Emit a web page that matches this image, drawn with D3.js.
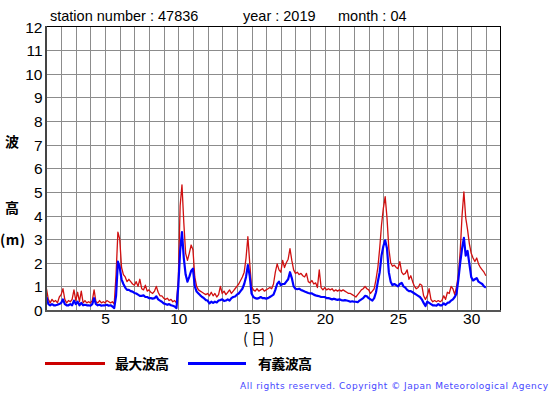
<!DOCTYPE html>
<html><head><meta charset="utf-8">
<script src="https://cdn.jsdelivr.net/npm/d3@7"></script>
<style>body{margin:0;background:#fff;overflow:hidden}</style>
</head><body><svg id="c" width="555" height="395"></svg>
<script>
// ---- data (3-hourly readings, April 2019, station 47836) ----
const titleStation = "station number : 47836";
const titleYear = "year : 2019";
const titleMonth = "month : 04";
const yTickValues = [0,1,2,3,4,5,6,7,8,9,10,11,12];
const xTickLabels = [5,10,15,20,25,30];
const seriesNames = ["最大波高", "有義波高"];
const samplesPerDay = 8;
const maxWave = [
 0.9,0.45,0.3,0.45,0.35,0.4,0.3,0.55,
 0.65,0.9,0.45,0.3,0.4,0.35,0.45,0.85,
 0.4,0.75,0.35,0.8,0.3,0.4,0.3,0.35,
 0.3,0.4,0.85,0.35,0.3,0.4,0.3,0.35,
 0.3,0.4,0.35,0.3,0.35,0.25,1.5,3.3,
 3.0,1.8,1.5,1.4,1.2,1.3,1.2,1.1,
 1.05,1.2,1.0,1.3,0.9,0.85,1.05,0.8,
 0.85,0.75,0.7,0.8,1.0,0.75,0.6,0.6,
 0.5,0.45,0.5,0.4,0.45,0.35,0.4,0.3,
 1.3,4.4,5.3,3.7,2.4,2.1,2.4,2.75,
 2.55,1.4,1.0,0.85,0.8,0.75,0.7,0.65,
 0.7,0.6,0.75,0.6,0.7,0.55,0.65,1.0,
 0.7,0.8,0.65,0.75,0.85,0.7,0.8,0.9,
 1.0,1.1,1.25,1.4,1.6,2.2,3.1,2.0,
 1.0,0.85,0.8,0.9,0.8,0.85,0.9,0.8,
 0.85,0.9,0.95,0.9,1.1,1.6,1.95,1.7,
 1.6,2.1,1.8,2.0,2.15,2.6,2.1,1.7,
 1.55,1.6,1.5,1.55,1.45,1.4,1.55,1.2,
 1.15,1.25,1.1,1.15,0.95,1.7,0.95,0.85,
 0.95,0.85,0.9,0.85,0.9,0.8,0.85,0.8,
 0.85,0.8,0.85,0.8,0.75,0.7,0.7,0.65,
 0.6,0.55,0.65,0.75,0.85,0.9,1.0,0.9,
 0.85,0.7,0.8,0.9,1.3,1.8,2.6,3.6,
 4.3,4.8,3.9,2.6,2.0,1.85,1.9,1.8,
 1.75,2.05,1.6,1.5,1.55,1.7,1.3,1.45,
 1.2,1.0,0.9,0.95,1.1,1.05,0.6,0.45,
 0.6,0.9,0.45,0.35,0.4,0.35,0.4,0.35,
 0.4,0.6,0.45,0.75,0.7,1.0,0.9,0.65,
 1.0,1.5,2.5,4.0,5.0,3.9,3.4,2.8,
 2.4,2.2,2.05,2.2,1.95,1.8,1.7,1.6,
 1.45];
const sigWave = [
 0.55,0.25,0.2,0.25,0.2,0.2,0.22,0.25,
 0.3,0.45,0.25,0.2,0.2,0.25,0.2,0.4,
 0.25,0.35,0.2,0.3,0.2,0.22,0.2,0.2,
 0.18,0.25,0.5,0.25,0.2,0.22,0.18,0.2,
 0.2,0.22,0.18,0.2,0.15,0.08,0.6,2.05,
 1.8,1.3,1.1,0.95,0.85,0.85,0.8,0.78,
 0.72,0.7,0.65,0.6,0.6,0.62,0.55,0.55,
 0.5,0.5,0.48,0.5,0.58,0.45,0.4,0.35,
 0.28,0.25,0.22,0.25,0.2,0.18,0.15,0.08,
 1.0,2.5,3.3,2.2,1.5,1.2,1.4,1.65,
 1.75,1.0,0.78,0.7,0.62,0.55,0.5,0.42,
 0.4,0.28,0.35,0.3,0.35,0.32,0.4,0.42,
 0.45,0.38,0.4,0.45,0.4,0.5,0.55,0.57,
 0.65,0.7,0.8,0.9,1.1,1.4,1.9,1.45,
 0.7,0.55,0.5,0.48,0.5,0.55,0.5,0.5,
 0.48,0.5,0.55,0.6,0.65,0.85,1.1,1.2,
 1.05,1.1,1.1,1.2,1.3,1.6,1.35,1.0,
 0.9,0.88,0.9,0.85,0.82,0.78,0.75,0.72,
 0.7,0.7,0.65,0.62,0.6,0.58,0.55,0.55,
 0.55,0.5,0.5,0.48,0.45,0.48,0.45,0.43,
 0.45,0.42,0.4,0.42,0.4,0.38,0.35,0.37,
 0.35,0.35,0.33,0.4,0.45,0.5,0.6,0.58,
 0.5,0.45,0.4,0.5,0.75,1.2,1.6,2.3,
 2.7,2.95,2.6,1.6,1.2,1.05,1.1,1.05,
 1.0,1.1,1.15,1.0,0.95,0.85,0.8,0.8,
 0.75,0.7,0.65,0.6,0.55,0.45,0.3,0.17,
 0.35,0.3,0.25,0.2,0.2,0.18,0.25,0.2,
 0.2,0.28,0.22,0.3,0.32,0.4,0.45,0.55,
 0.7,1.3,2.0,2.6,3.05,2.3,2.5,1.95,
 1.4,1.25,1.3,1.35,1.2,1.15,1.1,1.0,
 0.95];

// ---- chart ----
const svg = d3.select("#c");
const L = 46.5, R = 500.5, T = 26.5, B = 310;
const x = d3.scaleLinear().domain([1, 32]).range([L, R]);
const y = d3.scaleLinear().domain([0, 12]).range([B, T]);
const numFont = "'Liberation Sans', Arial, Helvetica, sans-serif";
const jpFont = "'Noto Sans CJK JP', 'Noto Sans CJK SC', sans-serif";

// grid
const g = svg.append("g");
g.selectAll("line.v").data(d3.range(2, 32)).join("line")
  .attr("x1", d => Math.round(x(d)) + 0.5).attr("x2", d => Math.round(x(d)) + 0.5)
  .attr("y1", T).attr("y2", B).attr("stroke", "#8c8c8c").attr("stroke-width", 1);
g.selectAll("line.h").data(yTickValues.slice(1, -1)).join("line")
  .attr("y1", d => Math.round(y(d)) + 0.5).attr("y2", d => Math.round(y(d)) + 0.5)
  .attr("x1", L).attr("x2", R).attr("stroke", "#8c8c8c").attr("stroke-width", 1);

// series
const toPts = arr => arr.map((v, i) => [1 + i / samplesPerDay, v]);
const line = d3.line().x(d => x(d[0])).y(d => y(d[1]));
svg.append("path").attr("d", line(toPts(maxWave))).attr("fill", "none")
  .attr("stroke", "#d01010").attr("stroke-width", 1.3).attr("stroke-linejoin", "round");
svg.append("path").attr("d", line(toPts(sigWave))).attr("fill", "none")
  .attr("stroke", "#0000ff").attr("stroke-width", 2.2).attr("stroke-linejoin", "round");

// frame
svg.append("line").attr("x1", L).attr("x2", R + 0.5).attr("y1", T).attr("y2", T).attr("stroke", "#000");
svg.append("line").attr("x1", R).attr("x2", R).attr("y1", T).attr("y2", B + 1).attr("stroke", "#000");
svg.append("line").attr("x1", L - 0.5).attr("x2", L - 0.5).attr("y1", T - 0.5).attr("y2", B + 2).attr("stroke", "#444").attr("stroke-width", 2);
svg.append("line").attr("x1", L - 1.5).attr("x2", R + 0.5).attr("y1", B + 1).attr("y2", B + 1).attr("stroke", "#555").attr("stroke-width", 2);

// axes labels via d3 axes (text only)
const yAxis = d3.axisLeft(y).tickValues(yTickValues).tickSize(0).tickPadding(4);
const ya = svg.append("g").attr("transform", `translate(${L},0)`).call(yAxis);
ya.select(".domain").remove();
ya.selectAll("text").attr("font-family", numFont).attr("font-size", 15.5).attr("fill", "#000").attr("dy", "0.36em");

const xAxis = d3.axisBottom(x).tickValues(xTickLabels).tickSize(0).tickPadding(3);
const xa = svg.append("g").attr("transform", `translate(0,${B})`).call(xAxis);
xa.select(".domain").remove();
xa.selectAll("text").attr("font-family", numFont).attr("font-size", 15.5).attr("fill", "#000");

// titles
const tt = svg.append("g").attr("font-family", numFont).attr("font-size", 14.5).attr("fill", "#000");
tt.append("text").attr("x", 50).attr("y", 21).text(titleStation);
tt.append("text").attr("x", 243).attr("y", 21).text(titleYear);
tt.append("text").attr("x", 338).attr("y", 21).text(titleMonth);

// y label
const yl = svg.append("g").attr("font-family", jpFont).attr("font-size", 14).attr("font-weight", "bold").attr("fill", "#000");
yl.append("text").attr("x", 5).attr("y", 147).text("波");
yl.append("text").attr("x", 5).attr("y", 213).text("高");
yl.append("text").attr("x", 0).attr("y", 245).attr("textLength", 25).attr("lengthAdjust", "spacing").text("(m)");

// x label
svg.append("text").attr("x", 243).attr("y", 344).attr("font-family", jpFont).attr("font-size", 15)
  .attr("textLength", 31).attr("lengthAdjust", "spacing").text("(日)");

// legend
const lg = svg.append("g");
const legendItems = [
  {name: seriesNames[0], color: "#cc0000", x1: 45, x2: 105, tx: 115},
  {name: seriesNames[1], color: "#0000ff", x1: 188, x2: 246, tx: 258}
];
legendItems.forEach(it => {
  lg.append("line").attr("x1", it.x1).attr("x2", it.x2).attr("y1", 363.5).attr("y2", 363.5)
    .attr("stroke", it.color).attr("stroke-width", 3);
  lg.append("text").attr("x", it.tx).attr("y", 369).attr("font-family", jpFont).attr("font-size", 14)
    .attr("font-weight", "bold").attr("textLength", 54).attr("lengthAdjust", "spacing").text(it.name);
});

// copyright
svg.append("text").attr("x", 240).attr("y", 388.5).attr("font-family", "'DejaVu Sans', sans-serif")
  .attr("font-size", 9).attr("fill", "#4646ff").attr("textLength", 308).attr("lengthAdjust", "spacing")
  .text("All rights reserved. Copyright © Japan Meteorological Agency");
</script>
</body></html>
